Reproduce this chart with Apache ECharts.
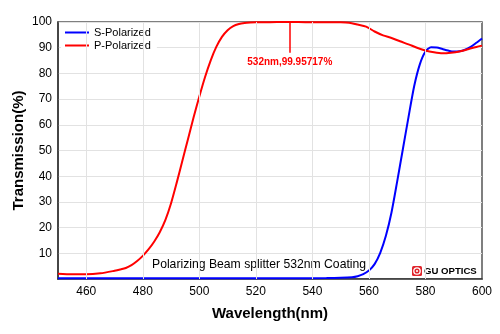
<!DOCTYPE html>
<html><head><meta charset="utf-8">
<script src="https://cdn.jsdelivr.net/npm/echarts@6/dist/echarts.min.js"></script>
<style>html,body{margin:0;padding:0;background:#fff}#c{width:500px;height:334px}</style>
</head><body><div id="c"></div>
<script>
var xTicks = [460,480,500,520,540,560,580,600];
var yTicks = [10,20,30,40,50,60,70,80,90,100];
var pWl = [450,455,460,465,470,472,474,476,478,480,482,484,486,488,490,492,494,496,498,500,502,504,506,508,510,512,514,516,518,520,525,530,535,540,545,550,553,556,559,562,565,568,571,574,577,580,583,586,589,592,595,598,600];
var pT  = [2.0,1.8,1.8,2.2,3.2,3.7,4.3,5.4,7.0,9.0,11.5,14.5,18.2,23,29.5,37.5,46,54.5,63,71,78.5,85,90.3,94.2,96.8,98.4,99.2,99.6,99.8,99.9,99.95,99.96,99.96,99.9,99.95,99.9,99.7,99,98.2,96.3,94.8,93.8,92.5,91.3,90,88.9,88.2,87.8,88.0,88.5,89.4,90.3,90.8];
var sWl = [450,470,490,510,530,545,550,554,556,558,560,562,564,566,568,570,572,574,576,578,580,582,584,586,588,590,592,594,596,598,600];
var sT  = [0.3,0.3,0.3,0.3,0.3,0.35,0.45,0.7,1.1,1.9,3.3,5.8,10.2,16.8,26,38,50.5,63,75,83.5,88.5,90.2,90.1,89.5,88.9,88.5,88.6,89.2,90.3,91.9,93.6];
var markWl = 532, markT = 99.95717, markEnd = 88;

function pairs(a,b){return a.map(function(v,i){return [v,b[i]];});}
var chart = echarts.init(document.getElementById('c'), null, {renderer:'canvas'});
var font = 'Liberation Sans, Arial, sans-serif';
var gridLines = xTicks.filter(function(v){return v<600;}).map(function(v){return {xAxis:v};});
chart.setOption({
  animation:false,
  grid:{left:58,right:18,top:22,bottom:55,show:true,borderColor:'#555',borderWidth:1.5,backgroundColor:'transparent',outerBoundsMode:'none',containLabel:false},
  legend:{
    left:61,top:25,orient:'vertical',itemGap:2,itemWidth:24,itemHeight:2,
    backgroundColor:'#fff',padding:[2,6,3,4],
    icon:'rect',
    textStyle:{fontSize:11,color:'#000',fontFamily:font},
    data:['S-Polarized','P-Polarized']
  },
  xAxis:{
    type:'value',min:450,max:600,interval:10,
    name:'Wavelength(nm)',nameLocation:'middle',nameGap:27,nameMoveOverlap:false,
    nameTextStyle:{fontSize:15,fontWeight:'bold',color:'#000',fontFamily:font},
    axisLine:{show:true,lineStyle:{color:'#333',width:1.5}},
    axisTick:{show:false},
    axisLabel:{fontSize:12,color:'#000',fontFamily:font,margin:7,
      formatter:function(v){return xTicks.indexOf(v)>=0?String(v):'';}},
    splitLine:{show:false}
  },
  yAxis:{
    type:'value',min:0,max:100,interval:10,
    name:'Transmission(%)',nameLocation:'middle',nameGap:32,nameMoveOverlap:false,
    nameTextStyle:{fontSize:15,fontWeight:'bold',color:'#000',fontFamily:font},
    axisLine:{show:true,lineStyle:{color:'#333',width:1.5}},
    axisTick:{show:false},
    axisLabel:{fontSize:12,color:'#000',fontFamily:font,margin:6,
      formatter:function(v){return yTicks.indexOf(v)>=0?String(v):'';}},
    splitLine:{show:true,lineStyle:{color:'#e2e2e2',width:1}}
  },
  series:[
    {name:'grid',type:'line',data:[],z:1,
      markLine:{silent:true,symbol:['none','none'],label:{show:false},
        lineStyle:{color:'#e2e2e2',width:1,type:'solid'},data:gridLines}},
    {name:'S-Polarized',type:'line',data:pairs(sWl,sT),smooth:0.25,showSymbol:false,
      lineStyle:{color:'#0000ff',width:2},itemStyle:{color:'#0000ff'},z:3},
    {name:'P-Polarized',type:'line',data:pairs(pWl,pT),smooth:0.25,showSymbol:false,
      lineStyle:{color:'#ff0000',width:2},itemStyle:{color:'#ff0000'},z:4,
      markLine:{silent:true,symbol:['none','none'],
        lineStyle:{color:'#ff0000',width:1.5,type:'solid'},
        label:{show:true,position:'end',distance:4,color:'#ff0000',fontSize:10,fontWeight:'bold',fontFamily:font,
          formatter:function(){return markWl+'nm,'+markT+'%';}},
        data:[[{coord:[markWl,100]},{coord:[markWl,markEnd]}]]}}
  ],
  graphic:[
    {type:'text',left:152,top:259,style:{text:'Polarizing Beam splitter 532nm Coating',fontSize:12.2,fill:'#000',fontFamily:font}},
    {type:'rect',shape:{x:412,y:266,width:10,height:10,r:1.5},style:{fill:'#e0242b'}},
    {type:'circle',shape:{cx:417,cy:271,r:3.2},style:{fill:'none',stroke:'#fff',lineWidth:1.3}},
    {type:'circle',shape:{cx:417,cy:271,r:1.1},style:{fill:'#fff'}},
    {type:'text',left:424,top:266,style:{text:'GU OPTICS',fontSize:9.6,fontWeight:'bold',fill:'#000',fontFamily:font}}
  ]
});
</script></body></html>
